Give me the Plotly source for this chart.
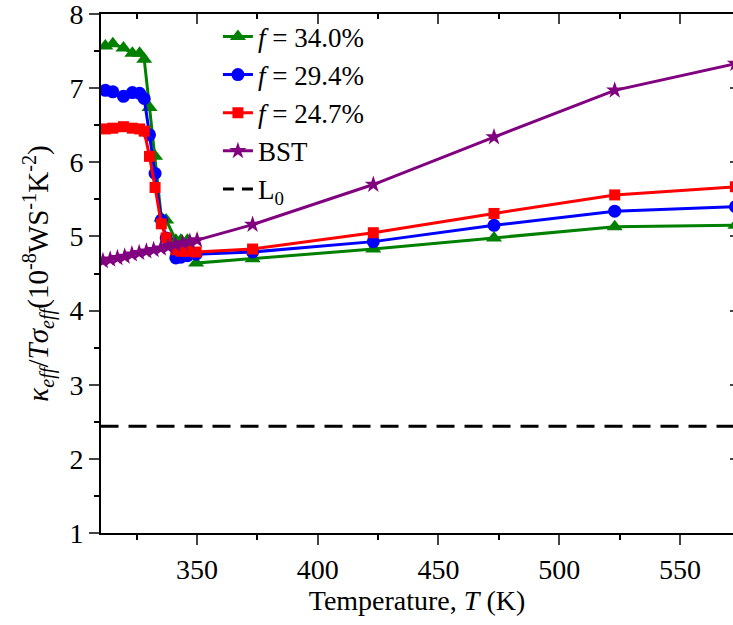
import plotly.graph_objects as go

# ---- data ----
T_comp = [312.0, 315.1, 319.5, 323.2, 326.2, 328.1, 330.3, 332.6, 335.2, 337.2,
          341.2, 343.3, 346.0, 349.6, 373, 423, 473, 523, 573]
f340 = [7.57, 7.60, 7.54, 7.47, 7.47, 7.39, 6.74, 6.08, 5.25, 5.22,
        4.95, 4.95, 4.95, 4.64, 4.70, 4.83, 4.98, 5.13, 5.15]
f294 = [6.97, 6.95, 6.89, 6.94, 6.93, 6.86, 6.37, 5.85, 5.22, 4.98,
        4.71, 4.72, 4.74, 4.76, 4.79, 4.93, 5.15, 5.34, 5.40]
f247 = [6.45, 6.46, 6.48, 6.46, 6.45, 6.42, 6.08, 5.66, 5.17, 4.98,
        4.82, 4.80, 4.80, 4.79, 4.83, 5.05, 5.31, 5.56, 5.67]
T_bst = [311, 314, 317, 320, 323, 326, 329, 332, 335, 338,
         341, 344, 347, 350, 373, 423, 473, 523, 573]
bst = [4.67, 4.69, 4.71, 4.73, 4.76, 4.78, 4.80, 4.82, 4.84, 4.86,
       4.89, 4.91, 4.93, 4.95, 5.16, 5.70, 6.34, 6.97, 7.33]
T_L0 = [310, 573]
L0 = [2.44, 2.44]

names = ["<i>f</i> = 34.0%", "<i>f</i> = 29.4%", "<i>f</i> = 24.7%", "BST", "L<sub>0</sub>"]

FONT = "Liberation Serif"
FS = 28

fig = go.Figure()
fig.add_trace(go.Scatter(x=T_comp, y=f340, name=names[0], mode="lines+markers",
                         line=dict(color="#008000", width=3),
                         marker=dict(symbol="triangle-up", size=14, color="#008000")))
fig.add_trace(go.Scatter(x=T_comp, y=f294, name=names[1], mode="lines+markers",
                         line=dict(color="#0000ff", width=3),
                         marker=dict(symbol="circle", size=13, color="#0000ff")))
fig.add_trace(go.Scatter(x=T_comp, y=f247, name=names[2], mode="lines+markers",
                         line=dict(color="#ff0000", width=3),
                         marker=dict(symbol="square", size=11, color="#ff0000")))
fig.add_trace(go.Scatter(x=T_bst, y=bst, name=names[3], mode="lines+markers",
                         line=dict(color="#800080", width=3),
                         marker=dict(symbol="star", size=13, color="#800080")))
fig.add_trace(go.Scatter(x=T_L0, y=L0, name=names[4], mode="lines", showlegend=False,
                         line=dict(color="black", width=3, dash="18px,10px")))
# legend proxy for L0 (dash pattern scaled to the legend sample length)
fig.add_trace(go.Scatter(x=[None], y=[None], name=names[4], mode="lines",
                         line=dict(color="black", width=3, dash="11px,8px")))
# dummy trace for the mirrored top / right axes
fig.add_trace(go.Scatter(x=[T_L0[0]], y=[L0[0]], xaxis="x2", yaxis="y2", mode="lines",
                         showlegend=False, hoverinfo="skip", opacity=0))

xr = [310.2, 572.0]
yr = [1, 8]
fig.update_layout(
    width=733, height=625,
    margin=dict(l=101, r=0, t=14, b=92),
    paper_bgcolor="white", plot_bgcolor="white",
    font=dict(family=FONT, size=FS, color="black"),
    showlegend=True,
    legend=dict(x=0.185, y=1.003, xanchor="left", yanchor="top",
                bgcolor="rgba(0,0,0,0)", font=dict(family=FONT, size=27),
                tracegroupgap=0),
    xaxis=dict(range=xr, dtick=50, tick0=0, ticks="outside", ticklen=10, tickwidth=2,
               showline=True, linewidth=2, linecolor="black", showgrid=False, zeroline=False,
               minor=dict(dtick=25, ticks="outside", ticklen=5, tickwidth=2, tickcolor="black"),
               title=dict(text="Temperature, <i>T</i> (K)", font=dict(family=FONT, size=FS), standoff=6),
               tickfont=dict(family=FONT, size=FS), ticklabeloverflow="allow"),
    yaxis=dict(range=yr, dtick=1, ticks="outside", ticklen=10, tickwidth=2,
               showline=True, linewidth=2, linecolor="black", showgrid=False, zeroline=False,
               minor=dict(dtick=0.5, ticks="outside", ticklen=5, tickwidth=2, tickcolor="black"),
               title=dict(text="<i>κ</i><sub><i>eff</i></sub>/<i>Tσ</i><sub><i>eff</i></sub>"
                               "(10<sup>-8</sup>WS<sup>-1</sup>K<sup>-2</sup>)",
                          font=dict(family=FONT, size=29), standoff=12),
               tickfont=dict(family=FONT, size=FS), ticklabeloverflow="allow"),
    xaxis2=dict(range=xr, overlaying="x", side="top", dtick=50, tick0=0, ticks="inside",
                ticklen=10, tickwidth=2, showticklabels=False, showline=True, linewidth=2,
                linecolor="black", showgrid=False, zeroline=False,
                minor=dict(dtick=25, ticks="inside", ticklen=5, tickwidth=2, tickcolor="black")),
    yaxis2=dict(range=yr, overlaying="y", side="right", dtick=1, ticks="inside",
                ticklen=3, tickwidth=2, showticklabels=False, showline=False,
                showgrid=False, zeroline=False),
)

fig.write_html("out.html", config={"displayModeBar": False},
               post_script="document.body.style.margin='0';document.body.style.padding='0';")
